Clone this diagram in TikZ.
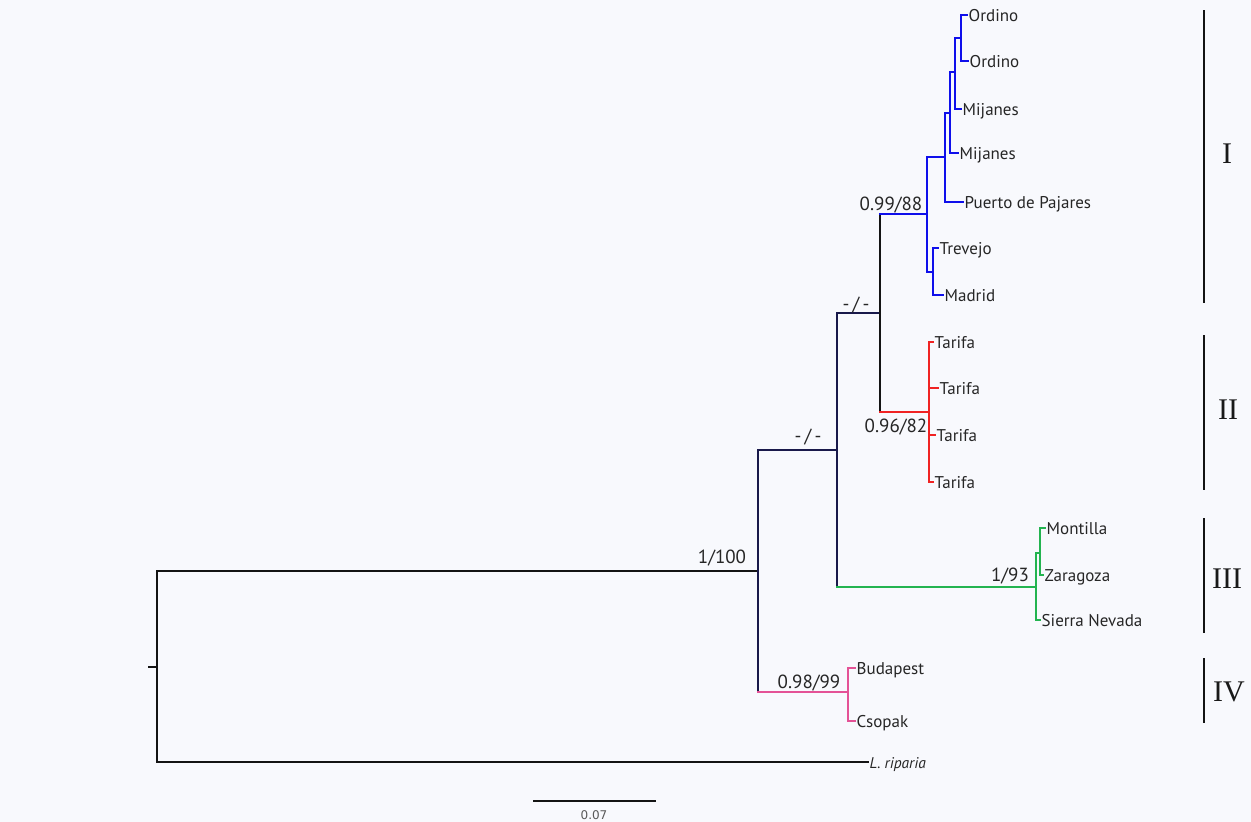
\documentclass[tikz,border=0pt]{standalone}
\usepackage{fontspec}
\newfontfamily\labfont{PT Sans}
\newfontfamily\romfont{Liberation Serif}
\newfontfamily\sbarfont{DejaVu Sans}
\definecolor{bgcol}{RGB}{248,249,253}
\definecolor{cblue}{RGB}{15,15,235}
\definecolor{cred}{RGB}{240,35,35}
\definecolor{cgreen}{RGB}{35,180,80}
\definecolor{cpink}{RGB}{228,82,150}
\definecolor{cnavy}{RGB}{25,25,75}
\definecolor{cblack}{RGB}{20,20,20}
\newcommand\treeedge[4]{%
  \draw[br,#1] (#3) -- (#3 |- #4);
  \draw[br,#2] (#3 |- #4) -- (#4);}
\begin{document}
\begin{tikzpicture}[x=1pt,y=-1pt,
  br/.style={line width=2pt,line cap=rect},
  tip/.style={anchor=west,inner sep=1.5pt,text height=12pt,text depth=0pt,font=\labfont\fontsize{17}{19}\selectfont,text=black!85},
  sup/.style={anchor=base,inner sep=0pt,font=\labfont\fontsize{19}{21}\selectfont,text=black!85},
  rom/.style={font=\romfont\fontsize{30}{32}\selectfont,text=black!90,inner sep=0pt},
  bar/.style={line width=1.3pt,cblack}]
\fill[bgcol] (0,0) rectangle (1251,822);
\useasboundingbox (0,0) rectangle (1251,822);
% internal nodes
\coordinate (R) at (157,667);
\coordinate (Rt) at (148,667);
\coordinate (A) at (758,571);
\coordinate (B) at (837,450);
\coordinate (C) at (880,313);
\coordinate (D) at (927,214);
\coordinate (E) at (945,157);
\coordinate (F) at (950,113);
\coordinate (G) at (955,72);
\coordinate (H) at (961,38);
\coordinate (I) at (933,272);
\coordinate (J) at (929,412);
\coordinate (K) at (1036,587);
\coordinate (L) at (1040,553);
\coordinate (M) at (848,692);
% tips
\node[tip] (o1) at (967,15) {Ordino};
\node[tip] (o2) at (968,61) {Ordino};
\node[tip] (mj1) at (961,109) {Mijanes};
\node[tip] (mj2) at (958,153) {Mijanes};
\node[tip] (pp) at (963,202) {Puerto de Pajares};
\node[tip] (tr) at (938,248) {Trevejo};
\node[tip] (md) at (943,295) {Madrid};
\node[tip] (ta1) at (933,342) {Tarifa};
\node[tip] (ta2) at (938,388) {Tarifa};
\node[tip] (ta3) at (935,435) {Tarifa};
\node[tip] (ta4) at (933,482) {Tarifa};
\node[tip] (mo) at (1045,528) {Montilla};
\node[tip] (za) at (1043,575) {Zaragoza};
\node[tip] (sn) at (1040,620) {Sierra Nevada};
\node[tip] (bu) at (855,668) {Budapest};
\node[tip] (cs) at (855,721) {Csopak};
\node[tip,font=\labfont\itshape\fontsize{15.5}{17}\selectfont] (out) at (868,762) {L. riparia};
% edges
\draw[br,cblack,line cap=butt] (Rt) -- (R);
\treeedge{cblack}{cblack}{R}{A}
\treeedge{cblack}{cblack}{R}{out.west}
\treeedge{cnavy}{cnavy}{A}{B}
\treeedge{cnavy}{cpink}{A}{M}
\treeedge{cnavy}{cnavy}{B}{C}
\treeedge{cnavy}{cgreen}{B}{K}
\treeedge{cblack}{cblue}{C}{D}
\treeedge{cblack}{cred}{C}{J}
\treeedge{cblue}{cblue}{D}{E}
\treeedge{cblue}{cblue}{D}{I}
\treeedge{cblue}{cblue}{E}{F}
\treeedge{cblue}{cblue}{E}{pp.west}
\treeedge{cblue}{cblue}{F}{G}
\treeedge{cblue}{cblue}{F}{mj2.west}
\treeedge{cblue}{cblue}{G}{H}
\treeedge{cblue}{cblue}{G}{mj1.west}
\treeedge{cblue}{cblue}{H}{o1.west}
\treeedge{cblue}{cblue}{H}{o2.west}
\treeedge{cblue}{cblue}{I}{tr.west}
\treeedge{cblue}{cblue}{I}{md.west}
\treeedge{cred}{cred}{J}{ta1.west}
\treeedge{cred}{cred}{J}{ta2.west}
\treeedge{cred}{cred}{J}{ta3.west}
\treeedge{cred}{cred}{J}{ta4.west}
\treeedge{cgreen}{cgreen}{K}{L}
\treeedge{cgreen}{cgreen}{K}{sn.west}
\treeedge{cgreen}{cgreen}{L}{mo.west}
\treeedge{cgreen}{cgreen}{L}{za.west}
\treeedge{cpink}{cpink}{M}{bu.west}
\treeedge{cpink}{cpink}{M}{cs.west}
% support values
\node[sup] (s1) at (891,210) {0.99/88};
\node[sup] (s2) at (856,310) {-\,/\,-};
\node[sup] (s3) at (808,442) {-\,/\,-};
\node[sup] (s4) at (722,563) {1/100};
\node[sup] (s5) at (896,432) {0.96/82};
\node[sup] (s6) at (1010,581) {1/93};
\node[sup] (s7) at (809,688) {0.98/99};
% clade bars
\coordinate (b1a) at (1204,10);   \coordinate (b1b) at (1204,303);
\coordinate (b2a) at (1204,335);  \coordinate (b2b) at (1204,490);
\coordinate (b3a) at (1204,518);  \coordinate (b3b) at (1204,633);
\coordinate (b4a) at (1204,658);  \coordinate (b4b) at (1204,723);
\draw[bar] (b1a) -- (b1b);
\draw[bar] (b2a) -- (b2b);
\draw[bar] (b3a) -- (b3b);
\draw[bar] (b4a) -- (b4b);
\node[rom] (r1) at (1227,154) {I};
\node[rom] (r2) at (1228,410) {II};
\node[rom] (r3) at (1227,579) {III};
\node[rom] (r4) at (1229,692) {IV};
% scale bar
\coordinate (sb1) at (533,801);
\coordinate (sb2) at (656,801);
\draw[line width=2pt,cblack] (sb1) -- (sb2);
\node[font=\sbarfont\fontsize{12}{14}\selectfont,text=black!65,inner sep=0pt] (sbl) at (594,815) {0.07};
\end{tikzpicture}
\end{document}
